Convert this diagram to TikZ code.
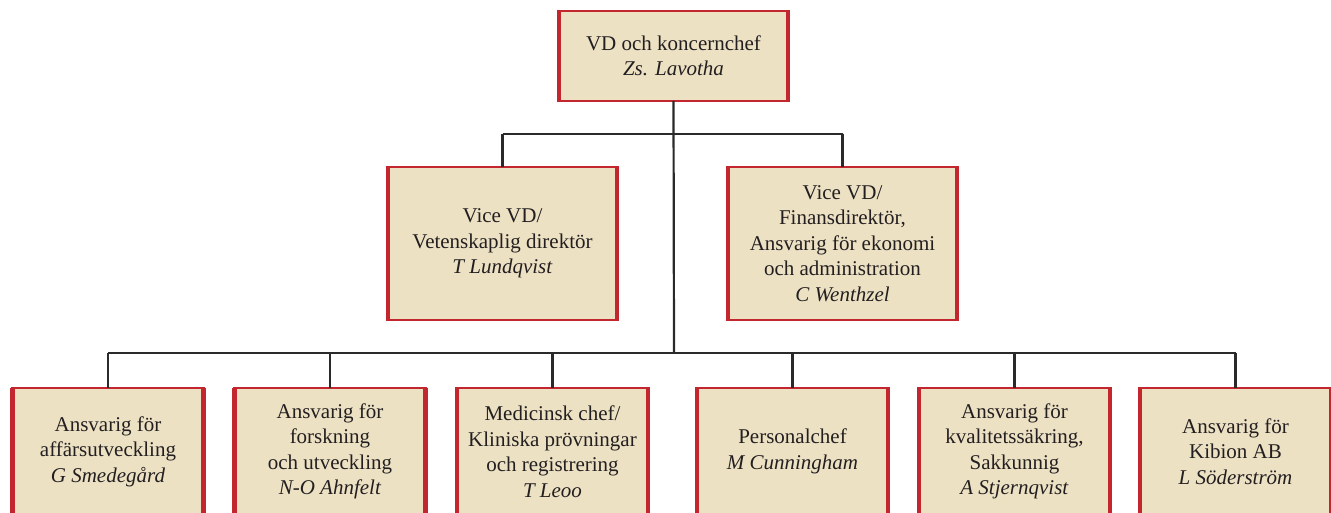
\documentclass[tikz,border=0pt]{standalone}
\usepackage{fontspec}
\setmainfont{Liberation Serif}
\definecolor{boxred}{HTML}{C4262F}
\definecolor{boxfill}{HTML}{EDE1C4}
\definecolor{ink}{HTML}{231F20}
\definecolor{wire}{HTML}{2A2A2A}
\tikzset{
  orgbox/.style={draw=boxred, line width=1.3pt, fill=boxfill, inner sep=0pt, outer sep=0pt,
    align=center, text=ink, font=\fontsize{21}{25.5}\selectfont},
  topbox/.style={orgbox, minimum width=231pt, minimum height=90pt},
  midbox/.style={orgbox, minimum width=231pt, minimum height=153pt},
  lowbox/.style={orgbox, minimum width=193pt, minimum height=127pt},
  sideline/.style={draw=boxred, line width=4.5pt},
  wireline/.style={draw=wire, line width=2.2pt},
  busline/.style={draw=wire, line width=1.7pt}
}
\begin{document}
\begin{tikzpicture}[x=1pt,y=-1pt]
\useasboundingbox (0,0) rectangle (1331,513);
\node[topbox] (top) at (673.5,56) {VD och koncernchef\\\textit{Zs. Lavotha}};
\node[midbox] (v1) at (502.5,243.5) {Vice VD/\\Vetenskaplig direktör\\\textit{T Lundqvist}};
\node[midbox] (v2) at (842.5,243.5) {Vice VD/\\Finansdirektör,\\Ansvarig för ekonomi\\och administration\\\textit{C Wenthzel}};
\node[lowbox] (b1) at (108,451.5) {Ansvarig för\\affärsutveckling\\\textit{G Smedegård}};
\node[lowbox] (b2) at (330,451.5) {Ansvarig för\\forskning\\och utveckling\\\textit{N-O Ahnfelt}};
\node[lowbox] (b3) at (552.5,451.5) {Medicinsk chef/\\Kliniska prövningar\\och registrering\\\textit{T Leoo}};
\node[lowbox] (b4) at (792.5,451.5) {Personalchef\\\textit{M Cunningham}};
\node[lowbox] (b5) at (1014.5,451.5) {Ansvarig för\\kvalitetssäkring,\\Sakkunnig\\\textit{A Stjernqvist}};
\node[lowbox] (b6) at (1235.5,451.5) {Ansvarig för\\Kibion AB\\\textit{L Söderström}};
\foreach \n in {top,v1,v2,b1,b2,b3,b4,b5,b6}{
  \draw[sideline] ([xshift=1pt]\n.north west) -- ([xshift=1pt]\n.south west)
                  ([xshift=-1pt]\n.north east) -- ([xshift=-1pt]\n.south east);
}
\coordinate (bus2) at (674,134);
\coordinate (bus3) at (674,353);
\draw[wireline] (top.south) -- (bus3);
\draw[busline] (v1.north |- bus2) -- (v2.north |- bus2);
\draw[wireline] (v1.north |- bus2) -- (v1.north);
\draw[wireline] (v2.north |- bus2) -- (v2.north);
\draw[busline] (b1.north |- bus3) -- (b6.north |- bus3);
\foreach \n in {b1,b2,b3,b4,b5,b6}{
  \draw[wireline] (\n.north |- bus3) -- (\n.north);
}
\end{tikzpicture}
\end{document}
